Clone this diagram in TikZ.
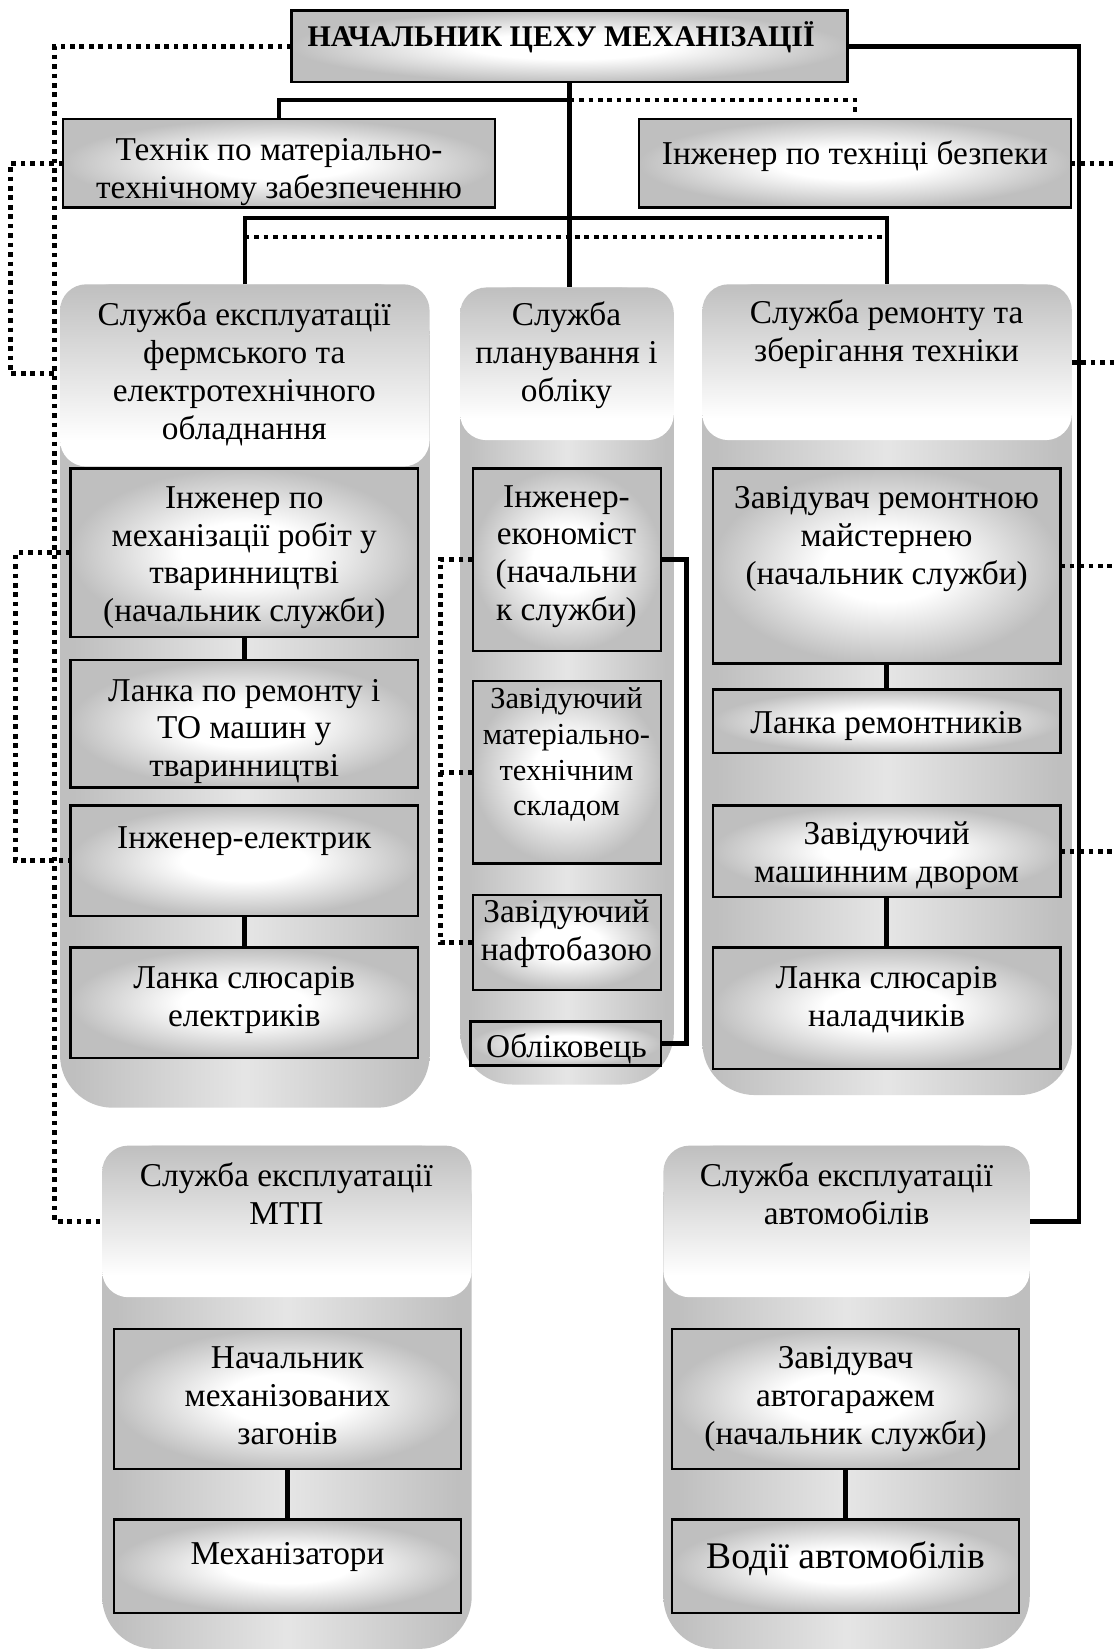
\documentclass[tikz,border=0pt]{standalone}
\usepackage{fontspec}
\setmainfont{Liberation Serif}
\usetikzlibrary{fit}

\definecolor{edgegray}{gray}{0.75}
\definecolor{bodylight}{gray}{0.9}

% shadings: boxes (white centre), service headers (grey top to white), service bodies (grey sides)
\pgfdeclareradialshading{boxsh}{\pgfpoint{0bp}{0bp}}{color(0bp)=(white); color(9bp)=(white); color(25bp)=(edgegray); color(50bp)=(edgegray)}
\pgfdeclareverticalshading{hdrsh}{100bp}{color(0bp)=(white); color(32bp)=(white); color(75bp)=(edgegray); color(100bp)=(edgegray)}
\pgfdeclarehorizontalshading{bodysh}{100bp}{color(0bp)=(edgegray); color(27bp)=(edgegray); color(50bp)=(bodylight); color(73bp)=(edgegray); color(100bp)=(edgegray)}

\tikzset{
  cont/.style={shade, shading=bodysh, rounded corners=1cm, inner sep=0pt, outer sep=0pt},
  hdr/.style={shade, shading=hdrsh, rounded corners=0.5cm, inner sep=0pt, outer sep=0pt},
  box/.style={draw=black, line width=1.3pt, shade, shading=boxsh, inner sep=0pt, outer sep=0pt},
  lbl/.style={align=center, inner sep=0pt, anchor=north, font=\fontsize{18}{20.5}\selectfont, execute at begin node=\strut},
  solidln/.style={line width=2.4pt},
  dotln/.style={line width=2.6pt, dash pattern=on 2.5pt off 2.6pt},
}

\begin{document}
\begin{tikzpicture}[x=0.02cm, y=-0.02cm]
\useasboundingbox (0,0) rectangle (1059,1568);
\fill[white] (0,0) rectangle (1059,1568);

% ---- service blocks ----
\node[cont, fit={(57,270)(408,1052)}] (s1) {};
\node[hdr,  fit={(57,270)(408,443)}] (s1h) {};
\node[cont, fit={(437,273)(640,1030)}] (s2) {};
\node[hdr,  fit={(437,273)(640,418)}] (s2h) {};
\node[cont, fit={(667,270)(1018,1040)}] (s3) {};
\node[hdr,  fit={(667,270)(1018,418)}] (s3h) {};
\node[cont, fit={(97,1088)(448,1566)}] (s4) {};
\node[hdr,  fit={(97,1088)(448,1232)}] (s4h) {};
\node[cont, fit={(630,1088)(978,1566)}] (s5) {};
\node[hdr,  fit={(630,1088)(978,1232)}] (s5h) {};

% ---- boxes ----
\node[box, fit={(277,10)(805,78)}] (top) {};
\node[box, fit={(60,113)(470,197)}] (tech) {};
\node[box, fit={(607,113)(1017,197)}] (safe) {};
\node[box, fit={(67,445)(397,605)}] (A) {};
\node[box, fit={(67,627)(397,748)}] (B) {};
\node[box, fit={(67,765)(397,870)}] (C) {};
\node[box, fit={(67,900)(397,1005)}] (D) {};
\node[box, fit={(449,445)(628,618)}] (E) {};
\node[box, fit={(449,647)(628,820)}] (F) {};
\node[box, fit={(449,850)(628,940)}] (G) {};
\node[box, fit={(447,970)(628,1012)}] (H) {};
\node[box, fit={(677,445)(1007,630)}] (I) {};
\node[box, fit={(677,655)(1007,715)}] (J) {};
\node[box, fit={(677,765)(1007,852)}] (K) {};
\node[box, fit={(677,900)(1007,1015)}] (L) {};
\node[box, fit={(108,1262)(438,1395)}] (M) {};
\node[box, fit={(108,1443)(438,1532)}] (N) {};
\node[box, fit={(638,1262)(968,1395)}] (O) {};
\node[box, fit={(638,1443)(968,1532)}] (P) {};

% ---- texts ----
\node[inner sep=0pt, anchor=base, font=\fontsize{16.2}{19}\selectfont\bfseries] (top-t) at (533,44) {НАЧАЛЬНИК ЦЕХУ МЕХАНІЗАЦІЇ};
\begin{scope}
  \clip (tech.south west) rectangle (tech.north east);
  \node[lbl] (tech-t) at (265,131) {Технік по матеріально-\\технічному забезпеченню};
\end{scope}
\node[lbl] (safe-t) at (812,131) {Інженер по техніці безпеки};
\node[lbl] (s1-t) at (232,286.5) {Служба експлуатації\\фермського та\\електротехнічного\\обладнання};
\node[lbl] (s2-t) at (538,286.5) {Служба\\планування і\\обліку};
\node[lbl] (s3-t) at (842,284.5) {Служба ремонту та\\зберігання техніки};
\node[lbl] (A-t) at (232,461.5) {Інженер по\\механізації робіт у\\тваринництві\\(начальник служби)};
\begin{scope}
  \clip (B.south west) rectangle (B.north east);
  \node[lbl] (B-t) at (232,644.5) {Ланка по ремонту і\\ТО машин у\\тваринництві};
\end{scope}
\node[lbl] (C-t) at (232,780.5) {Інженер-електрик};
\node[lbl] (D-t) at (232,917.5) {Ланка слюсарів\\електриків};
\node[lbl] (E-t) at (538,460.5) {Інженер-\\економіст\\(начальни\\к служби)};
\node[lbl, font=\fontsize{16.5}{19.3}\selectfont] (F-t) at (538,653) {Завідуючий\\матеріально-\\технічним\\складом};
\node[lbl] (G-t) at (538,854.5) {Завідуючий\\нафтобазою};
\node[lbl] (H-t) at (538,978.5) {Обліковець};
\node[lbl] (I-t) at (842,461.5) {Завідувач ремонтною\\майстернею\\(начальник служби)};
\node[lbl] (J-t) at (842,671.5) {Ланка ремонтників};
\node[lbl] (K-t) at (842,780.5) {Завідуючий\\машинним двором};
\node[lbl] (L-t) at (842,917.5) {Ланка слюсарів\\наладчиків};
\node[lbl] (s4-t) at (272,1103.5) {Служба експлуатації\\МТП};
\node[lbl] (s5-t) at (804,1103.5) {Служба експлуатації\\автомобілів};
\node[lbl] (M-t) at (273,1278.5) {Начальник\\механізованих\\загонів};
\node[lbl] (N-t) at (273,1460.5) {Механізатори};
\node[lbl] (O-t) at (803,1278.5) {Завідувач\\автогаражем\\(начальник служби)};
\node[lbl, font=\fontsize{20.3}{23.5}\selectfont] (P-t) at (803,1460) {Водії автомобілів};

% ---- helper coordinates for connector routes ----
\coordinate (lcol) at (52,0);
\coordinate (llx) at (15,0);
\coordinate (tj) at (10,355);
\coordinate (mcol) at (418,0);
\coordinate (ecol) at (652,0);
\coordinate (rcol) at (1025,0);
\coordinate (redge) at (1059,0);
\coordinate (y95) at (0,95);
\coordinate (bar) at (0,207);
\coordinate (dbar) at (0,225);
\coordinate (j1) at (top.south |- y95);

% ---- line management (solid) ----
\draw[solidln] (top.south) -- (top.south |- s2.north);
\draw[solidln] (j1) -| (tech.north);
\draw[solidln] (s1.north) -- (s1.north |- bar) -- (s3.north |- bar) -- (s3.north);
\draw[solidln] (top.east) -| (s5h.east -| rcol) -- (s5h.east);
\draw[solidln] (A.south) -- (B.north);
\draw[solidln] (C.south) -- (D.north);
\draw[solidln] (I.south) -- (J.north);
\draw[solidln] (K.south) -- (L.north);
\draw[solidln] (M.south) -- (N.north);
\draw[solidln] (O.south) -- (P.north);
\draw[solidln] (E.east) -- (E.east -| ecol) -- (H.east -| ecol) -- (H.east);

% ---- functional links (dotted) ----
\draw[dotln] (top.west) -| (s4h.west -| lcol) -- (s4h.west);
\draw[dotln] (tech.west) -| (tj) -- (tj -| lcol);
\draw[dotln, shorten >=0.1cm] (j1) -| (safe.north);
\draw[dotln] (s1.north |- dbar) -- (s3.north |- dbar);
\draw[dotln] (safe.east) -- (safe.east -| redge);
\draw[dotln] (s3h.east) -- (s3h.east -| redge);
\draw[dotln] (I.east) -- (I.east -| redge);
\draw[dotln] (K.east) -- (K.east -| redge);
\draw[dotln] (A.west) -- (A.west -| llx) -- (C.west -| llx) -- (C.west);
\draw[dotln] (E.west) -- (E.west -| mcol) -- (G.west -| mcol) -- (G.west);
\draw[dotln] (F.west) -- (F.west -| mcol);
\end{tikzpicture}
\end{document}
